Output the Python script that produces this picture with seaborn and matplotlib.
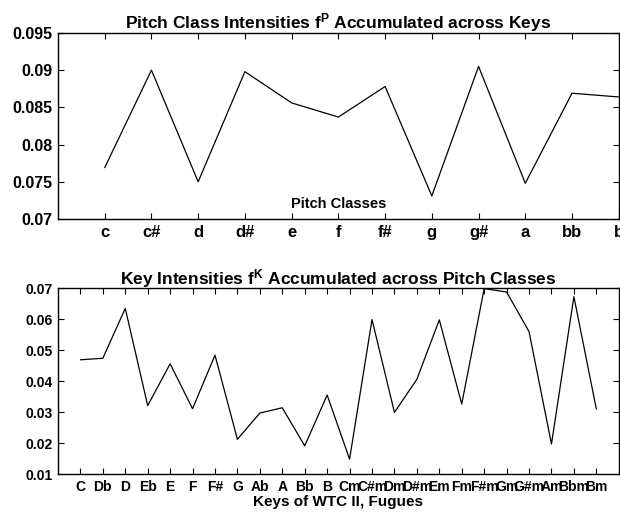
import numpy as np
import pandas as pd
import matplotlib
matplotlib.use("Agg")
import matplotlib.pyplot as plt
import seaborn as sns

# Pitch class intensities accumulated across keys
pitch_classes = ["c", "c#", "d", "d#", "e", "f", "f#", "g", "g#", "a", "bb", "b"]
pitch_intensity = [0.0769, 0.0900, 0.0750, 0.0898, 0.0856, 0.0837,
                   0.0878, 0.0731, 0.0905, 0.0748, 0.0869, 0.0864]
pitch_yticks = [0.07, 0.075, 0.08, 0.085, 0.09, 0.095]
pitch_yticklabels = ["0.07", "0.075", "0.08", "0.085", "0.09", "0.095"]

# Key intensities accumulated across pitch classes (WTC II fugues)
keys = ["C", "Db", "D", "Eb", "E", "F", "F#", "G", "Ab", "A", "Bb", "B",
        "Cm", "C#m", "Dm", "D#m", "Em", "Fm", "F#m", "Gm", "G#m", "Am", "Bbm", "Bm"]
key_intensity = [0.0469, 0.0474, 0.0635, 0.0321, 0.0456, 0.0311, 0.0484, 0.0212,
                 0.0297, 0.0314, 0.0191, 0.0355, 0.0148, 0.0599, 0.0299, 0.0406,
                 0.0598, 0.0326, 0.0699, 0.0688, 0.0560, 0.0197, 0.0673, 0.0310]
key_yticks = [0.01, 0.02, 0.03, 0.04, 0.05, 0.06, 0.07]
key_yticklabels = ["0.01", "0.02", "0.03", "0.04", "0.05", "0.06", "0.07"]

sns.set_style("white")
plt.rcParams["font.family"] = ["Liberation Sans", "DejaVu Sans"]
plt.rcParams["font.weight"] = "bold"
plt.rcParams["text.color"] = "black"
plt.rcParams["axes.labelcolor"] = "black"
plt.rcParams["xtick.color"] = "black"
plt.rcParams["ytick.color"] = "black"
plt.rcParams["mathtext.fontset"] = "custom"
plt.rcParams["mathtext.rm"] = "Liberation Sans:bold"
plt.rcParams["mathtext.bf"] = "Liberation Sans:bold"
plt.rcParams["mathtext.it"] = "Liberation Sans:bold"

fig = plt.figure(figsize=(6.2, 5.15), dpi=100)
ax1 = fig.add_axes([0.0935, 0.5748, 0.9045, 0.3612])
ax2 = fig.add_axes([0.0935, 0.0796, 0.9045, 0.3606])

pitch_df = pd.DataFrame({"pos": np.arange(1, len(pitch_classes) + 1),
                         "intensity": pitch_intensity})
key_df = pd.DataFrame({"pos": np.arange(1, len(keys) + 1),
                       "intensity": key_intensity})

sns.lineplot(data=pitch_df, x="pos", y="intensity", ax=ax1,
             color="black", linewidth=0.9)
sns.lineplot(data=key_df, x="pos", y="intensity", ax=ax2,
             color="black", linewidth=0.9)


def style_axes(ax, xlabels, yticks, ylabels, xsize, ysize):
    ax.set_xticks(np.arange(1, len(xlabels) + 1))
    ax.set_xticklabels(xlabels, fontsize=xsize, fontweight="bold", color="black")
    ax.set_yticks(yticks)
    ax.set_yticklabels(ylabels, fontsize=ysize, fontweight="bold", color="black")
    ax.tick_params(direction="in", length=4, width=0.8, top=True, right=True,
                   bottom=True, left=True, pad=4, colors="black")
    for sp in ax.spines.values():
        sp.set_visible(True)
        sp.set_color("black")
        sp.set_linewidth(1.0)
    ax.set_facecolor("white")


style_axes(ax1, pitch_classes, pitch_yticks, pitch_yticklabels, 12, 11.5)
ax1.set_xlim(0, 12)
ax1.set_ylim(0.07, 0.095)
ax1.set_xlabel("")
ax1.set_ylabel("")
ax1.text(0.5, 0.08, "Pitch Classes", transform=ax1.transAxes,
         ha="center", va="center", fontsize=10.5, fontweight="bold")
ax1.set_title(r"Pitch Class Intensities f$^{\mathrm{P}}$ Accumulated across Keys",
              fontsize=12.5, fontweight="bold", pad=3)

style_axes(ax2, keys, key_yticks, key_yticklabels, 10, 10)
ax2.set_xlim(0, 25)
ax2.set_ylim(0.01, 0.07)
ax2.set_ylabel("")
ax2.set_xlabel("Keys of WTC II, Fugues", fontsize=11, fontweight="bold", labelpad=1)
ax2.set_title(r"Key Intensities f$^{\mathrm{K}}$ Accumulated across Pitch Classes",
              fontsize=12.5, fontweight="bold", pad=3)

fig.savefig("out.png", dpi=100, facecolor="white")
